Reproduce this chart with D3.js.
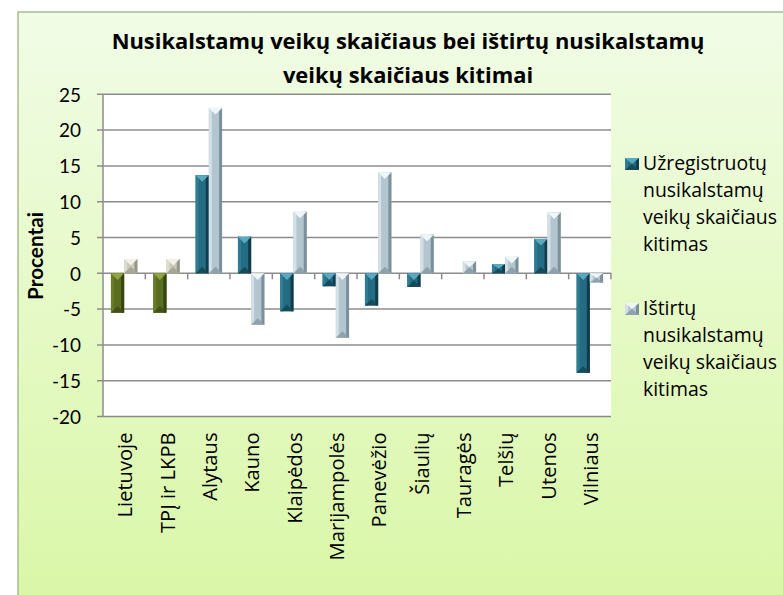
<!DOCTYPE html>
<html><head><meta charset="utf-8">
<script src="https://cdn.jsdelivr.net/npm/d3@7"></script>
<style>body{margin:0;background:#fff}svg{display:block}</style>
</head><body>
<svg id="c" width="783" height="595"></svg>
<script>
const categories = ["Lietuvoje","TPĮ ir LKPB","Alytaus","Kauno","Klaipėdos","Marijampolės","Panevėžio","Šiaulių","Tauragės","Telšių","Utenos","Vilniaus"];
const registered = [-5.5, -5.5, 13.7, 5.1, -5.3, -1.8, -4.5, -1.9, 0, 1.3, 4.8, -13.9];
const investigated = [2.0, 2.0, 23.1, -7.2, 8.6, -9.0, 14.1, 5.4, 1.7, 2.3, 8.5, -1.3];
const yTicks = [-20, -15, -10, -5, 0, 5, 10, 15, 20, 25];
const seriesNames = [["Užregistruotų","nusikalstamų","veikų skaičiaus","kitimas"],["Ištirtų","nusikalstamų","veikų skaičiaus","kitimas"]];
const titleLines = ["Nusikalstamų veikų skaičiaus bei ištirtų nusikalstamų","veikų skaičiaus kitimai"];
const yTitle = "Procentai";

const svg = d3.select("#c");
const defs = svg.append("defs");
const bg = defs.append("linearGradient").attr("id","bg").attr("x1",0).attr("y1",0).attr("x2",0).attr("y2",1);
bg.append("stop").attr("offset","0%").attr("stop-color","#f1fce6");
bg.append("stop").attr("offset","100%").attr("stop-color","#d9f7a6");

function fit(text, family, weight, target){
  const t = svg.append("text").style("font-family",family).style("font-weight",weight).style("font-size","100px").text(text);
  const w = t.node().getComputedTextLength();
  t.remove();
  return 100*target/w;
}
const F = "'Open Sans', sans-serif";
const FL = "Lato, sans-serif";

svg.append("rect").attr("x",18).attr("y",12).attr("width",800).attr("height",600)
  .attr("fill","url(#bg)").attr("stroke","#a9bb90").attr("stroke-width",1.5);

const titleSize = fit(titleLines[0], F, "bold", 593);
svg.append("g").selectAll("text").data(titleLines).join("text")
  .attr("x",408).attr("y",(d,i)=>49+i*34).attr("text-anchor","middle")
  .style("font-family",F).style("font-weight","bold").style("font-size",titleSize+"px").attr("fill","#000").text(d=>d);

const L = 103, R = 611, T = 94.3, B = 416.5;
const x = d3.scaleBand().domain(categories).range([L,R]).padding(0);
const xs = d3.scaleBand().domain([0,1]).range([0,x.bandwidth()]).paddingInner(0).paddingOuter(0.6);
const y = d3.scaleLinear().domain([-20,25]).range([B,T]);

svg.append("rect").attr("x",L).attr("y",T).attr("width",R-L).attr("height",B-T).attr("fill","#fff");

const grid = svg.append("g");
grid.selectAll("line").data(yTicks).join("line")
  .attr("x1",L-6).attr("x2",R).attr("y1",d=>y(d)).attr("y2",d=>y(d))
  .attr("stroke","#8c8c8c").attr("stroke-width",1.5);
svg.append("line").attr("x1",L).attr("x2",L).attr("y1",T).attr("y2",B).attr("stroke","#8c8c8c").attr("stroke-width",1.5);
svg.append("g").selectAll("line").data(categories.slice(1).map(c=>x(c)).concat([R])).join("line")
  .attr("x1",d=>d).attr("x2",d=>d).attr("y1",y(0)).attr("y2",y(0)+6).attr("stroke","#8c8c8c").attr("stroke-width",1.5);

const tickFs = fit("-20", FL, "normal", 29);
const yAxis = d3.axisLeft(y).tickValues(yTicks).tickFormat(d=>String(d)).tickSize(0).tickPadding(0);
const ya = svg.append("g").attr("transform",`translate(${L-22},0)`).call(yAxis);
ya.select(".domain").remove();
ya.selectAll("text").style("font-family",FL).style("font-size",tickFs+"px").attr("fill","#000").attr("dy","0.36em");

const ytSize = fit(yTitle, FL, "bold", 88);
svg.append("text").attr("transform",`translate(43,256) rotate(-90)`).attr("text-anchor","middle")
  .style("font-family",FL).style("font-weight","bold").style("font-size",ytSize+"px").text(yTitle);

const pal = {
  teal:  {c:"#236c82", l:"#2f7c93", r:"#123c4b", t:"#5aa9c1", b:"#174b5c"},
  gray:  {c:"#b3c5ce", l:"#d3e0e6", r:"#7d9099", t:"#eef6f9", b:"#8fa2ab"},
  olive: {c:"#5a6d20", l:"#687d2a", r:"#36440f", t:"#90a540", b:"#425216"},
  beige: {c:"#c9c9b9", l:"#dcdccd", r:"#96968a", t:"#f0f0e6", b:"#a8a899"}
};
function bevel(g, bx, by, w, h, p){
  const gg = g.append("g");
  gg.append("rect").attr("x",bx).attr("y",by).attr("width",w).attr("height",h).attr("fill",p.c);
  const s = Math.min(3, w/4);
  gg.append("rect").attr("x",bx).attr("y",by).attr("width",s).attr("height",h).attr("fill",p.l);
  gg.append("rect").attr("x",bx+w-s).attr("y",by).attr("width",s).attr("height",h).attr("fill",p.r);
  const d = Math.min(w/2, h/2);
  gg.append("path").attr("d",`M${bx},${by}L${bx+w},${by}L${bx+w/2},${by+d}Z`).attr("fill",p.t);
  gg.append("path").attr("d",`M${bx},${by+h}L${bx+w},${by+h}L${bx+w/2},${by+h-d}Z`).attr("fill",p.b);
}
const bars = svg.append("g");
[registered, investigated].forEach((vals, si)=>{
  vals.forEach((v,i)=>{
    if (v===0) return;
    const c = categories[i];
    const bx = x(c)+xs(si), w = xs.bandwidth();
    const y0 = y(Math.max(0,v)), h = Math.abs(y(v)-y(0));
    const p = si===0 ? (i<2?pal.olive:pal.teal) : (i<2?pal.beige:pal.gray);
    bevel(bars, bx, y0, w, h, p);
  });
});

const xlSize = fit("Marijampolės", F, "normal", 128);
const xAxis = d3.axisBottom(x).tickSize(0).tickPadding(0);
const xa = svg.append("g").attr("transform",`translate(0,${B})`).call(xAxis);
xa.select(".domain").remove();
xa.selectAll("text").attr("transform","rotate(-90)").attr("text-anchor","end")
  .attr("x",-16).attr("y",1).attr("dy","0.35em")
  .style("font-family",F).style("font-size",xlSize+"px").attr("fill","#000");

const legSize = fit("veikų skaičiaus", F, "normal", 134);
const leg = svg.append("g");
[0,1].forEach(si=>{
  const top = si===0 ? 158 : 303;
  bevel(leg, 625, top, 14, 12, si===0?pal.teal:pal.gray);
  leg.append("g").selectAll("text").data(seriesNames[si]).join("text")
    .attr("x",643).attr("y",(d,i)=>top+12+i*27)
    .style("font-family",F).style("font-size",legSize+"px").attr("fill","#000").text(d=>d);
});
</script>
</body></html>
